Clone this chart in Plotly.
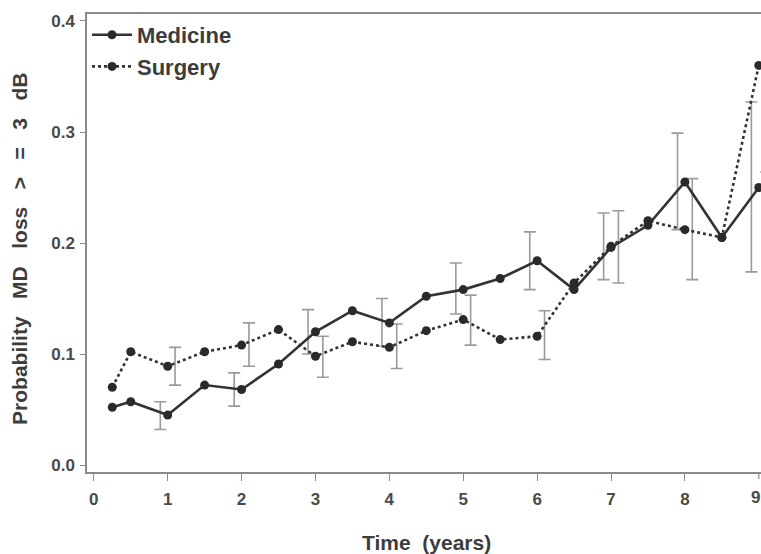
import plotly.graph_objects as go

# ---- data ----
times = [0.25, 0.5, 1, 1.5, 2, 2.5, 3, 3.5, 4, 4.5, 5, 5.5, 6, 6.5, 7, 7.5, 8, 8.5, 9]
medicine = [0.052, 0.057, 0.045, 0.072, 0.068, 0.091, 0.120, 0.139, 0.128, 0.152,
            0.158, 0.168, 0.184, 0.158, 0.196, 0.216, 0.255, 0.205, 0.250]
surgery = [0.070, 0.102, 0.089, 0.102, 0.108, 0.122, 0.098, 0.111, 0.106, 0.121,
           0.131, 0.113, 0.116, 0.164, 0.197, 0.220, 0.212, 0.205, 0.360]

err_times = [1, 2, 3, 4, 5, 6, 7, 8, 9]
medicine_lo = [0.032, 0.053, 0.100, 0.107, 0.136, 0.158, 0.167, 0.212, 0.174]
medicine_hi = [0.057, 0.083, 0.140, 0.150, 0.182, 0.210, 0.227, 0.299, 0.327]
surgery_lo = [0.072, 0.089, 0.079, 0.087, 0.108, 0.095, 0.164, 0.167, 0.264]
surgery_hi = [0.106, 0.128, 0.116, 0.127, 0.153, 0.139, 0.229, 0.258, 0.460]

x_ticks = [0, 1, 2, 3, 4, 5, 6, 7, 8, 9]
y_ticks = [0.0, 0.1, 0.2, 0.3, 0.4]
y_tick_labels = ["0.0", "0.1", "0.2", "0.3", "0.4"]
x_title = "Time\u00a0\u00a0(years)"
_gap = "\u00a0\u00a0\u00a0"
y_title = _gap.join(["Probability", "MD", "loss", ">", "=", "3", "dB"])

# ---- styles ----
LINE_COL = "#333333"
ERR_COL = "#9a9a9a"
AXIS_COL = "#8a8a8a"
TEXT_COL = "#3c3c3c"
TICK_COL = "#4a4a4a"
FONT = "Liberation Sans, Arial, sans-serif"
MED_OFFSET = -0.1
SURG_OFFSET = 0.1

fig = go.Figure()


def add_err(ts, lo, hi, offset):
    mids = [(a + b) / 2 for a, b in zip(lo, hi)]
    half = [(b - a) / 2 for a, b in zip(lo, hi)]
    fig.add_trace(go.Scatter(
        x=[t + offset for t in ts], y=mids, mode="markers",
        marker=dict(size=1, color="rgba(0,0,0,0)"),
        error_y=dict(type="data", array=half, symmetric=True,
                     color=ERR_COL, thickness=1.6, width=6),
        showlegend=False, hoverinfo="skip"))


add_err(err_times, medicine_lo, medicine_hi, MED_OFFSET)
add_err(err_times, surgery_lo, surgery_hi, SURG_OFFSET)

fig.add_trace(go.Scatter(
    x=times, y=medicine, mode="lines+markers", name="Medicine",
    line=dict(color=LINE_COL, width=2.6),
    marker=dict(symbol="circle", size=9, color="#2a2a2a")))
fig.add_trace(go.Scatter(
    x=times, y=surgery, mode="lines+markers", name="Surgery",
    line=dict(color=LINE_COL, width=2.6, dash="dot"),
    marker=dict(symbol="circle", size=9, color="#2a2a2a")))

tickfont = dict(family=FONT, size=17, color=TICK_COL, weight="bold")

fig.update_layout(
    width=761, height=554,
    margin=dict(l=87, r=0, t=14, b=82),
    paper_bgcolor="white", plot_bgcolor="white",
    font=dict(family=FONT, color=TEXT_COL),
    showlegend=True,
    legend=dict(x=0.0, y=1.0, xanchor="left", yanchor="top",
                bgcolor="rgba(0,0,0,0)", itemwidth=40,
                font=dict(family=FONT, size=22, color=TEXT_COL, weight="bold"),
                tracegroupgap=0),
    xaxis=dict(range=[-0.092, 9.03], tickvals=x_ticks[:-1],
               showgrid=False, zeroline=False,
               showline=True, linecolor=AXIS_COL, linewidth=1.5, mirror=True,
               ticks="outside", ticklen=7, tickcolor=AXIS_COL, tickwidth=1.2,
               ticklabelstandoff=4, tickfont=tickfont),
    yaxis=dict(range=[-0.0063, 0.4063], tickvals=y_ticks, ticktext=y_tick_labels,
               showgrid=False, zeroline=False,
               showline=True, linecolor=AXIS_COL, linewidth=1.5,
               ticks="outside", ticklen=5, tickcolor=AXIS_COL, tickwidth=1.2,
               ticklabelstandoff=2, tickfont=tickfont),
)

# tick mark for the last value, and its label (kept just inside the edge)
fig.add_shape(type="line", xref="x", yref="paper",
              x0=x_ticks[-1], x1=x_ticks[-1], y0=0, y1=-0.0153,
              line=dict(color=AXIS_COL, width=1.2))
fig.add_annotation(
    text=str(x_ticks[-1]), xref="x", yref="paper", x=x_ticks[-1], y=-0.055,
    xanchor="center", yanchor="middle", showarrow=False, font=tickfont,
    xshift=-3)

fig.add_annotation(
    text=x_title, xref="paper", yref="paper",
    x=0.504, y=-0.155, xanchor="center", yanchor="middle", showarrow=False,
    font=dict(family=FONT, size=21, color=TEXT_COL, weight="bold"))

fig.add_annotation(
    text=y_title, xref="paper", yref="paper", textangle=-90,
    x=-0.0994, y=0.487, xanchor="center", yanchor="middle", showarrow=False,
    font=dict(family=FONT, size=21, color=TEXT_COL, weight="bold"))

fig.write_html("out.html")
